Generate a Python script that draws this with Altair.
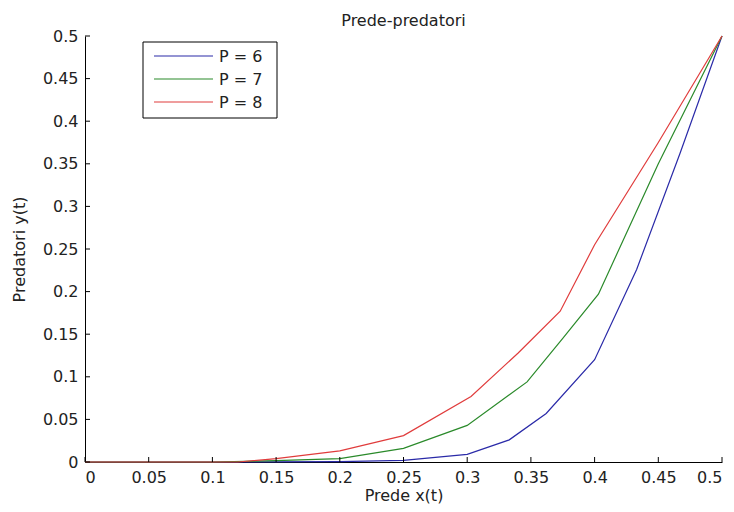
import altair as alt
import pandas as pd

series_names = ["P = 6", "P = 7", "P = 8"]
colors = ["#2a2aa8", "#2a8a2a", "#e03c3c"]

x_p6 = [0.0, 0.10, 0.20, 0.25, 0.30, 0.333, 0.362, 0.40, 0.433, 0.467, 0.50]
y_p6 = [0.0, 0.0, 0.0005, 0.002, 0.009, 0.026, 0.057, 0.120, 0.226, 0.362, 0.50]

x_p7 = [0.0, 0.10, 0.15, 0.20, 0.25, 0.30, 0.347, 0.375, 0.403, 0.45, 0.50]
y_p7 = [0.0, 0.0, 0.0015, 0.004, 0.016, 0.043, 0.094, 0.145, 0.197, 0.35, 0.50]

x_p8 = [0.0, 0.12, 0.15, 0.20, 0.25, 0.303, 0.34, 0.373, 0.40, 0.45, 0.50]
y_p8 = [0.0, 0.0, 0.004, 0.013, 0.031, 0.077, 0.128, 0.177, 0.255, 0.375, 0.50]

tick_values = [0, 0.05, 0.1, 0.15, 0.2, 0.25, 0.3, 0.35, 0.4, 0.45, 0.5]

title_text = "Prede-predatori"
x_title = "Prede x(t)"
y_title = "Predatori y(t)"

rows = []
for name, xs, ys in zip(series_names, [x_p6, x_p7, x_p8], [y_p6, y_p7, y_p8]):
    for i, (a, b) in enumerate(zip(xs, ys)):
        rows.append({"series": name, "x": a, "y": b, "order": i})
df = pd.DataFrame(rows)
df_xticks = pd.DataFrame({"x": tick_values})
df_yticks = pd.DataFrame({"y": tick_values})
df_one = pd.DataFrame({"k": [0]})

W, H = 637, 426
FONT = "DejaVu Sans"
xscale = alt.Scale(domain=[0, 0.5], nice=False, zero=False)
yscale = alt.Scale(domain=[0, 0.5], nice=False, zero=False)

x_axis = alt.Axis(values=tick_values, format="~g", title=x_title,
                  ticks=False, labelPadding=7, titlePadding=2)
y_axis = alt.Axis(values=tick_values, format="~g", title=y_title,
                  ticks=False, labelPadding=7, titlePadding=15)

lines = alt.Chart(df).mark_line(strokeWidth=1.2).encode(
    x=alt.X("x:Q", scale=xscale, axis=x_axis),
    y=alt.Y("y:Q", scale=yscale, axis=y_axis),
    color=alt.Color("series:N", scale=alt.Scale(domain=series_names, range=colors), legend=None),
    order="order:Q",
)

xticks = alt.Chart(df_xticks).mark_rule(color="black", strokeWidth=1).encode(
    x=alt.X("x:Q", scale=xscale, axis=x_axis),
    y=alt.value(H), y2=alt.value(H - 5),
)
yticks = alt.Chart(df_yticks).mark_rule(color="black", strokeWidth=1).encode(
    y=alt.Y("y:Q", scale=yscale, axis=y_axis),
    x=alt.value(0), x2=alt.value(5),
)

legend_box = alt.Chart(df_one).mark_rect(fill="white", stroke="black", strokeWidth=1).encode(
    x=alt.value(58), x2=alt.value(192), y=alt.value(6), y2=alt.value(82),
)
legend_y = [20, 43, 66]
legend_layers = []
for name, col, ly in zip(series_names, colors, legend_y):
    legend_layers.append(
        alt.Chart(df_one).mark_rule(color=col, strokeWidth=1.2).encode(
            x=alt.value(69), x2=alt.value(128), y=alt.value(ly))
    )
    legend_layers.append(
        alt.Chart(df_one).mark_text(align="left", baseline="middle", font=FONT,
                                    fontSize=16, color="#222").encode(
            x=alt.value(134), y=alt.value(ly + 1), text=alt.value(name))
    )

chart = alt.layer(lines, xticks, yticks, legend_box, *legend_layers).properties(
    width=W, height=H,
    autosize="none",
    background="white",
    padding={"left": 77, "top": 28, "right": 4, "bottom": 42},
    title=title_text,
).configure_title(
    font=FONT, fontSize=16, fontWeight="normal", color="#222", offset=9, dy=10,
    anchor="middle", frame="group",
).configure_axis(
    labelFont=FONT, labelFontSize=16, labelColor="#222",
    titleFont=FONT, titleFontSize=16, titleFontWeight="normal", titleColor="#222",
    domainColor="black", domainWidth=1, grid=False,
).configure_view(stroke=None)

chart.save("out.html", embed_options={"renderer": "svg", "actions": False})
